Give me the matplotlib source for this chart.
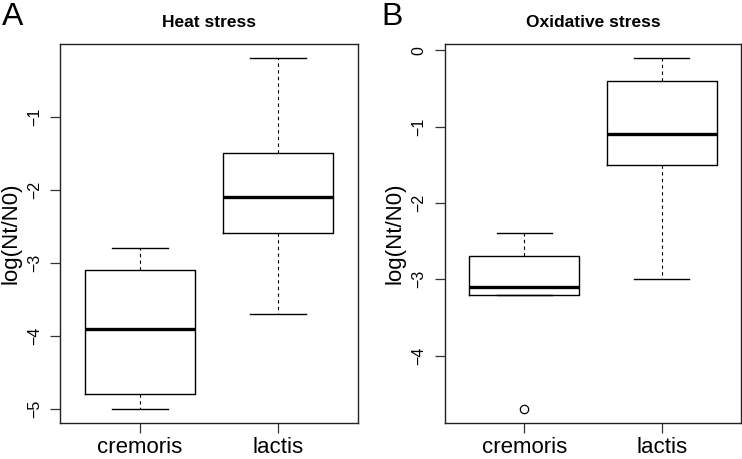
import matplotlib
matplotlib.use("Agg")
import matplotlib.pyplot as plt

plt.rcParams["font.family"] = ["Liberation Sans", "DejaVu Sans"]

groups = ["cremoris", "lactis"]

# heat stress: whisker low, q1, median, q3, whisker high
heat_wlo = [-5.0, -3.7]
heat_q1 = [-4.8, -2.6]
heat_med = [-3.9, -2.1]
heat_q3 = [-3.1, -1.5]
heat_whi = [-2.8, -0.2]
heat_out = [[], []]

# oxidative stress
ox_wlo = [-3.2, -3.0]
ox_q1 = [-3.2, -1.5]
ox_med = [-3.1, -1.1]
ox_q3 = [-2.7, -0.4]
ox_whi = [-2.4, -0.1]
ox_out = [[-4.7], []]

heat_ticks = [-5, -4, -3, -2, -1]
ox_ticks = [-4, -3, -2, -1, 0]


def make_stats(wlo, q1, med, q3, whi, out):
    stats = []
    for i, g in enumerate(groups):
        stats.append({"label": g, "whislo": wlo[i], "q1": q1[i], "med": med[i],
                      "q3": q3[i], "whishi": whi[i], "fliers": out[i]})
    return stats


def draw(ax, stats, ticks, title):
    ax.bxp(stats, positions=[1, 2], widths=0.8, showfliers=True,
           boxprops=dict(color="black", linewidth=1.0),
           medianprops=dict(color="black", linewidth=2.4, solid_capstyle="butt"),
           whiskerprops=dict(color="black", linewidth=0.8, linestyle=(0, (3, 3))),
           capprops=dict(color="black", linewidth=1.0),
           capwidths=0.4,
           flierprops=dict(marker="o", markerfacecolor="none", markeredgecolor="black",
                           markersize=6, markeredgewidth=0.9))
    lo = min(s["whislo"] for s in stats)
    lo = min([lo] + [f for s in stats for f in s["fliers"]])
    hi = max(s["whishi"] for s in stats)
    pad = 0.04 * (hi - lo)
    ax.set_ylim(lo - pad, hi + pad)
    ax.set_xlim(0.42, 2.58)
    ax.set_yticks(ticks)
    ax.set_yticklabels([str(t).replace("-", "\u2212") for t in ticks], rotation=90, va="center")
    ax.set_xticks([1, 2])
    ax.set_xticklabels(groups, fontsize=16)
    ax.tick_params(axis="y", labelsize=11.5, length=7, width=0.9, pad=6, color="#333333")
    ax.tick_params(axis="x", length=7, width=0.9, pad=3, color="#333333")
    ax.set_ylabel("log(Nt/N0)", fontsize=16, labelpad=4)
    ax.set_title(title, fontsize=12.5, fontweight="bold", pad=12)
    for sp in ax.spines.values():
        sp.set_linewidth(1.0)
        sp.set_color("#222222")


fig = plt.figure(figsize=(7.42, 4.59), dpi=100)
ax1 = fig.add_axes([60 / 742, 1 - 423 / 459, 298 / 742, 379 / 459])
ax2 = fig.add_axes([444.6 / 742, 1 - 423 / 459, 296.8 / 742, 379 / 459])

draw(ax1, make_stats(heat_wlo, heat_q1, heat_med, heat_q3, heat_whi, heat_out),
     heat_ticks, "Heat stress")
draw(ax2, make_stats(ox_wlo, ox_q1, ox_med, ox_q3, ox_whi, ox_out),
     ox_ticks, "Oxidative stress")

fig.text(13 / 742, 1 - 17 / 459, "A", fontsize=23, ha="center", va="center")
fig.text(392 / 742, 1 - 17 / 459, "B", fontsize=23, ha="center", va="center")

fig.savefig("out.png", dpi=100)
